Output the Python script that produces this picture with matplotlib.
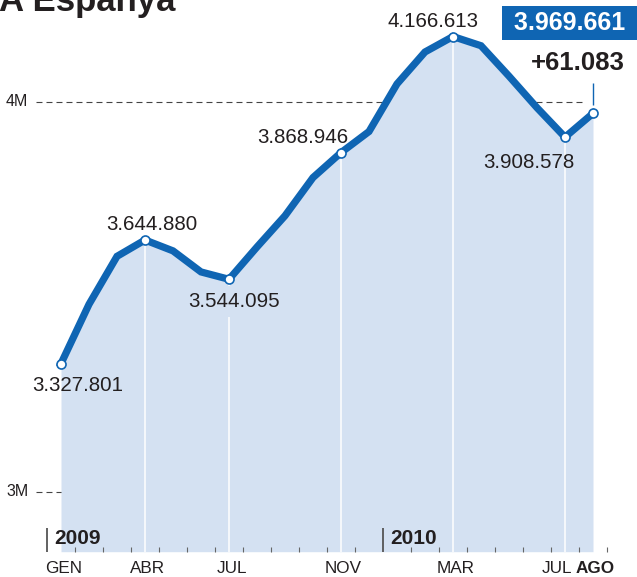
import numpy as np
import matplotlib.pyplot as plt

plt.rcParams['font.family'] = ['Liberation Sans', 'DejaVu Sans']
plt.rcParams['lines.scale_dashes'] = False

# = = = = = = = = = = = = = = = = = = = = = = #
#                    Data                     #
# = = = = = = = = = = = = = = = = = = = = = = #

# Registered unemployment, Jan 2009 .. Aug 2010 (one value per month)
aturats = [3327801, 3480000, 3603000, 3644880, 3617000, 3563000, 3544095,
           3627000, 3707000, 3805000, 3868946, 3923000, 4045000, 4127000,
           4166613, 4143000, 4065000, 3984000, 3908578, 3969661]

# Months that carry a tick label
tick_idx = [0, 3, 6, 10, 14, 18, 19]
tick_labels = ['GEN', 'ABR', 'JUL', 'NOV', 'MAR', 'JUL', 'AGO']

# First month of each year
any_idx = [0, 12]
any_labels = ['2009', '2010']

# Months with value label (the last one goes in the blue box)
destacats = [0, 3, 6, 10, 14, 18]

# Gridline values (millions)
ref_vals = [3, 4]
ref_labels = ['3M', '4M']

# = = = = = = = = = = = = = = = = = = = = = = #
#                   Layout                    #
# = = = = = = = = = = = = = = = = = = = = = = #
W, H = 637, 577
X0, STEP = 61, 28          # pixel of first month, pixels per month
Y3M, PX_M = 491.5, 390     # pixel of 3M line, pixels per million
Y_BASE = 551.7             # pixel of the baseline

BLUE = '#0f65b3'
FILL = '#d4e1f2'
TEXT = '#231f20'

def fmt(v):
    return f"{v:,}".replace(',', '.')

# offsets of the value labels (pixels), alignment
label_pos = {0: (17, -27, 'center'), 3: (7, 10, 'center'), 6: (5, -28, 'center'),
             10: (7, 10, 'right'), 14: (-20, 10, 'center'), 18: (-36, -31, 'center')}
tick_dx = {18: -8}

x = np.arange(len(aturats))
v = np.array(aturats) / 1e6

fig = plt.figure(figsize=(W / 100, H / 100), dpi=100)
ax = fig.add_axes([0, (H - Y_BASE) / H, 1, Y_BASE / H])
ax.set_xlim(-X0 / STEP, (W - X0) / STEP)
ax.set_ylim(3 - (Y_BASE - Y3M) / PX_M, 3 + Y3M / PX_M)
ax.axis('off')
y0 = ax.get_ylim()[0]

# Title (cut at the top as in the original)
fig.text(-0.002, 1 - 11 / H, 'A Espanya', fontsize=25, fontweight='bold',
         color=TEXT, va='baseline')

# Reference lines
for rv, rl in zip(ref_vals, ref_labels):
    ax.hlines(rv, (36 - X0) / STEP, x[-1] - 0.25, color='#444444', lw=0.8,
              linestyles=(0, (4.3, 2.9)), zorder=0.5)
    ax.text(6 / W, rv, rl, transform=ax.get_yaxis_transform(), fontsize=11.5,
            color=TEXT, ha='left', va='center')

# Area and line
ax.fill_between(x, v, y0, color=FILL, lw=0, zorder=1)
for i in destacats[1:]:
    ax.vlines(x[i], y0, v[i], color='white', lw=1.1, zorder=2)
ax.plot(x, v, color=BLUE, lw=5.2, zorder=5, solid_joinstyle='miter')
mk = destacats + [len(x) - 1]
ax.plot(x[mk], v[mk], 'o', ms=6.5, mfc='white', mec=BLUE, mew=1.2, zorder=6)

# Value labels
for i in destacats:
    dx, dy, ha = label_pos[i]
    bbox = dict(boxstyle='square,pad=0.3', fc=FILL, ec='none') if i == 6 else None
    ax.annotate(fmt(aturats[i]), (x[i], v[i]), xytext=(dx, dy),
                textcoords='offset pixels', fontsize=14.8, color=TEXT,
                ha=ha, va='baseline', bbox=bbox, zorder=4)

# Last value, in the blue box, and the monthly change
ax.annotate(' ' + fmt(aturats[-1]) + ' ', (x[-1], v[-1]), xytext=(-23, 83),
            textcoords='offset pixels', fontsize=18, fontweight='bold',
            color='white', ha='center', va='baseline',
            bbox=dict(boxstyle='square,pad=0.2', fc=BLUE, ec='none'), zorder=7)
canvi = aturats[-1] - aturats[-2]
ax.annotate(('+' if canvi > 0 else '') + fmt(canvi), (x[-1], v[-1]),
            xytext=(-15, 43), textcoords='offset pixels', fontsize=18.5,
            fontweight='bold', color=TEXT, ha='center', va='baseline', zorder=7)
ax.vlines(x[-1], v[-1] + 8 / PX_M, v[-1] + 30 / PX_M, color=BLUE, lw=1, zorder=4)

# X axis: month ticks, year bars, labels
tr = ax.get_xaxis_transform()
for b in np.arange(-0.5, len(x)):
    if b + 0.5 in any_idx:
        ax.vlines(b, 0, 24 / Y_BASE, transform=tr, color='#555555', lw=1.3,
                  clip_on=False, zorder=3)
    else:
        ax.vlines(b, 0, 5 / Y_BASE, transform=tr, color='#666666', lw=0.8,
                  clip_on=False, zorder=3)
for i, lab in zip(any_idx, any_labels):
    ax.annotate(lab, (i - 0.5, 0), xycoords=tr, xytext=(7, 8),
                textcoords='offset pixels', fontsize=15, fontweight='bold',
                color=TEXT, ha='left', va='baseline', zorder=4)
for i, lab in zip(tick_idx, tick_labels):
    ax.annotate(lab, (x[i], 0), xycoords=tr, xytext=(tick_dx.get(i, 2.5), -21.5),
                textcoords='offset pixels', fontsize=12.3, color=TEXT,
                fontweight='bold' if i == len(x) - 1 else 'normal',
                ha='center', va='baseline', annotation_clip=False)

fig.savefig('out.png', dpi=100)
